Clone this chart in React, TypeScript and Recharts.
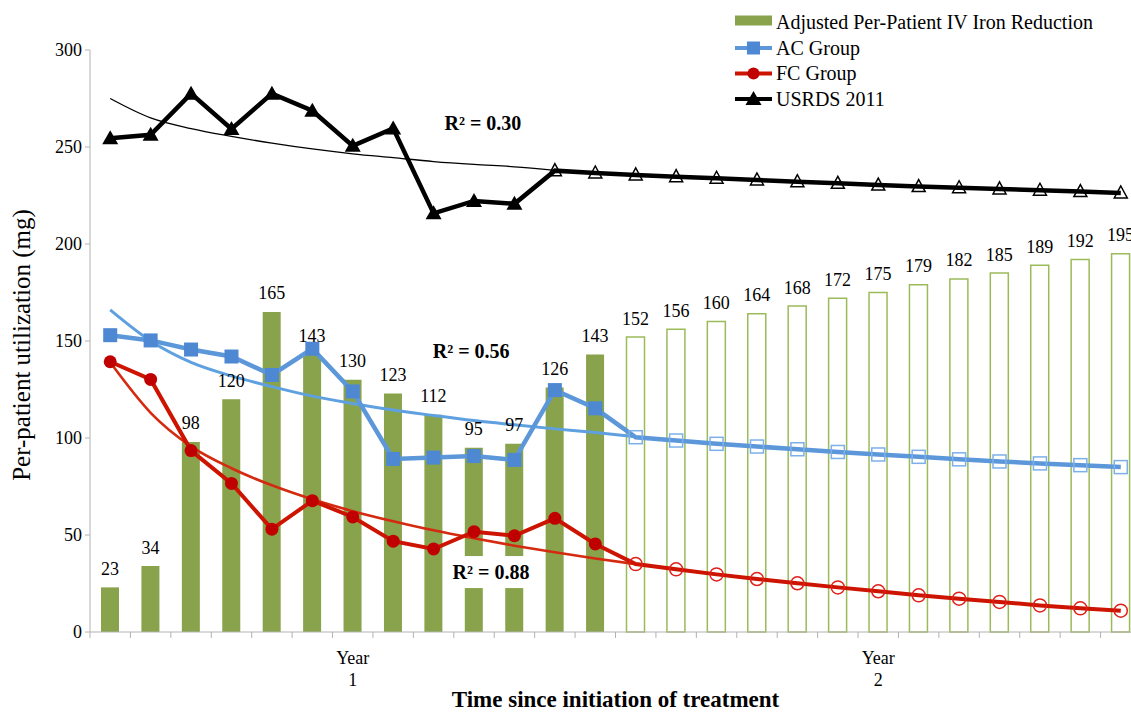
import React from 'react';
import {
  ComposedChart,
  Bar,
  Line,
  XAxis,
  YAxis,
  Cell,
  LabelList,
  Legend,
  ReferenceDot,
} from 'recharts';

// 4-week periods since start of treatment (13 per year)
const periods = [1, 2, 3, 4, 5, 6, 7, 8, 9, 10, 11, 12, 13, 14, 15, 16, 17, 18, 19, 20, 21, 22, 23, 24, 25, 26];
const ironReduction = [23, 34, 98, 120, 165, 143, 130, 123, 112, 95, 97, 126, 143, 152, 156, 160, 164, 168, 172, 175, 179, 182, 185, 189, 192, 195];
const acGroup = [153, 150.3, 145.6, 142, 132.5, 146, 124, 89.2, 89.9, 90.7, 88.7, 124.7, 115.3, 100.4, 98.7, 97, 95.6, 94.2, 92.8, 91.5, 90.3, 89, 87.9, 86.9, 86, 85];
const fcGroup = [139.3, 130.2, 93.5, 76.6, 53, 67.7, 59.3, 46.8, 42.8, 51.7, 49.6, 58.6, 45.4, 35, 32.3, 29.7, 27.3, 25.1, 23, 21, 18.9, 17.2, 15.5, 13.7, 12.2, 11];
const usrds2011 = [254.5, 256.3, 277.5, 259.3, 277.5, 268.7, 250.6, 259.6, 215.8, 222.2, 220.7, 237.8, 236.6, 235.6, 234.7, 233.9, 233, 232.1, 231.3, 230.4, 229.6, 229, 228.4, 227.7, 227, 226.3];

// log trendlines over the observed part
const acTrend = [166, 150, 139, 132, 126.5, 121.6, 117.8, 114.4, 111.6, 109, 106.8, 104.7, 102.8, 100.7];
const fcTrend = [139, 113, 95.7, 84.4, 75.6, 68.4, 62.3, 57.1, 52.4, 48.3, 44.5, 41.1, 37.9, 35];
const usrdsTrend = [275, 265, 259.5, 255.5, 252, 249, 246.5, 244.5, 242.5, 241, 239.8, 238];

const observedGroups = 13; // filled bars / markers for AC & FC
const observedUsrds = 11;

const yTicks = [0, 50, 100, 150, 200, 250, 300];
const yearTicks = [
  { pos: 7, label: 'Year', num: '1' },
  { pos: 20, label: 'Year', num: '2' },
];

const r2Labels = [
  { text: 'R² = 0.30', period: 10.22, value: 262.4, boxed: false },
  { text: 'R² = 0.56', period: 9.93, value: 144.8, boxed: false },
  { text: 'R² = 0.88', period: 10.42, value: 30.9, boxed: true },
];

const legendItems = [
  { name: 'Adjusted Per-Patient IV Iron Reduction', kind: 'bar' },
  { name: 'AC Group', kind: 'ac' },
  { name: 'FC Group', kind: 'fc' },
  { name: 'USRDS 2011', kind: 'usrds' },
];

const FONT = '"Liberation Serif", "Times New Roman", serif';
const GREEN = '#88A34B';
const GREEN_LINE = '#9BBB59';
const BLUE_LINE = '#5C97DA';
const BLUE_MARK = '#4E88D3';
const BLUE_HOLLOW = '#7DB0EA';
const BLUE_TREND = '#5EA0E0';
const RED_LINE = '#CC1400';
const RED_MARK = '#C00000';
const RED_TREND = '#D42A10';
const AXIS = '#B3B3B3';

const data = periods.map((p, i) => ({
  period: p,
  iron: ironReduction[i],
  ac: acGroup[i],
  fc: fcGroup[i],
  usrds: usrds2011[i],
  acTrend: acTrend[i] ?? null,
  fcTrend: fcTrend[i] ?? null,
  usrdsTrend: usrdsTrend[i] ?? null,
}));

const xTicks = [...periods.map((p) => p - 0.5), periods[periods.length - 1] + 0.5, ...yearTicks.map((t) => t.pos)];

const square = (cx: number, cy: number, s: number, filled: boolean, key: string) =>
  filled ? (
    <rect key={key} x={cx - s / 2} y={cy - s / 2} width={s} height={s} fill={BLUE_MARK} />
  ) : (
    <rect key={key} x={cx - s / 2} y={cy - s / 2} width={s} height={s} fill="none" stroke={BLUE_HOLLOW} strokeWidth={1.5} />
  );

const circle = (cx: number, cy: number, r: number, filled: boolean, key: string) =>
  filled ? (
    <circle key={key} cx={cx} cy={cy} r={r} fill={RED_MARK} />
  ) : (
    <circle key={key} cx={cx} cy={cy} r={r} fill="none" stroke="#E0201A" strokeWidth={1.5} />
  );

const triangle = (cx: number, cy: number, filled: boolean, key: string) =>
  filled ? (
    <polygon key={key} points={`${cx},${cy - 8} ${cx - 8},${cy + 6} ${cx + 8},${cy + 6}`} fill="#000" />
  ) : (
    <polygon key={key} points={`${cx},${cy - 7} ${cx - 6.5},${cy + 5} ${cx + 6.5},${cy + 5}`} fill="none" stroke="#000" strokeWidth={1.5} />
  );

const acDot = (props: any) => {
  const { cx, cy, index } = props;
  if (cx == null || cy == null) return <g key={`ac-${index}`} />;
  return square(cx, cy, index < observedGroups ? 14 : 13, index < observedGroups, `ac-${index}`);
};

const fcDot = (props: any) => {
  const { cx, cy, index } = props;
  if (cx == null || cy == null) return <g key={`fc-${index}`} />;
  return circle(cx, cy, 6.5, index < observedGroups, `fc-${index}`);
};

const usrdsDot = (props: any) => {
  const { cx, cy, index } = props;
  if (cx == null || cy == null) return <g key={`us-${index}`} />;
  return triangle(cx, cy, index < observedUsrds, `us-${index}`);
};

const renderXTick = (props: any) => {
  const { x, y, payload } = props;
  const year = yearTicks.find((t) => t.pos === payload.value);
  if (year) {
    return (
      <text x={x} y={y} textAnchor="middle" fontSize={18} fontFamily={FONT} fill="#000">
        <tspan x={x} dy={26}>{year.label}</tspan>
        <tspan x={x} dy={22}>{year.num}</tspan>
      </text>
    );
  }
  return <line x1={x} x2={x} y1={y - 6} y2={y} stroke={AXIS} strokeWidth={1} />;
};

const renderYLabel = () => {
  const cy = 345;
  const cx = 21;
  return (
    <text
      x={cx}
      y={cy}
      transform={`rotate(-90, ${cx}, ${cy})`}
      textAnchor="middle"
      dominantBaseline="central"
      fontSize={25}
      fontFamily={FONT}
      fill="#000"
    >
      Per-patient utilization (mg)
    </text>
  );
};

const renderLegend = () => {
  const rows = [22.5, 48, 73.5, 99];
  const ox = 730;
  const oy = 6;
  return (
    <svg width={400} height={112} style={{ display: 'block' }}>
      {legendItems.map((item, i) => {
        const cy = rows[i] - oy;
        const x0 = 735 - ox;
        const x1 = 772 - ox;
        const mx = (x0 + x1) / 2;
        let sym: React.ReactNode = null;
        if (item.kind === 'bar') {
          sym = <rect x={x0} y={cy - 7} width={x1 - x0} height={10} fill={GREEN} />;
        } else if (item.kind === 'ac') {
          sym = (
            <g>
              <line x1={x0} x2={x1} y1={cy} y2={cy} stroke={BLUE_LINE} strokeWidth={4} />
              {square(mx, cy, 13, true, 'lg-ac')}
            </g>
          );
        } else if (item.kind === 'fc') {
          sym = (
            <g>
              <line x1={x0} x2={x1} y1={cy} y2={cy} stroke={RED_LINE} strokeWidth={4} />
              {circle(mx, cy, 6, true, 'lg-fc')}
            </g>
          );
        } else {
          sym = (
            <g>
              <line x1={x0} x2={x1} y1={cy} y2={cy} stroke="#000" strokeWidth={4} />
              {triangle(mx, cy, true, 'lg-us')}
            </g>
          );
        }
        return (
          <g key={item.name}>
            {sym}
            <text x={776 - ox} y={cy + 6.8} fontSize={20} fontFamily={FONT} fill="#000">
              {item.name}
            </text>
          </g>
        );
      })}
    </svg>
  );
};

const R2Shape = (props: any) => {
  const { cx, cy, text, boxed } = props;
  if (cx == null || cy == null) return <g />;
  return (
    <g>
      {boxed && <rect x={cx - 46} y={cy - 16} width={92} height={32} fill="#fff" />}
      <text x={cx} y={cy} textAnchor="middle" dominantBaseline="central" fontSize={20} fontWeight="bold" fontFamily={FONT} fill="#000">
        {text}
      </text>
    </g>
  );
};

export default function App() {
  return (
    <div
      style={{
        position: 'absolute',
        left: 0,
        top: 0,
        width: 1131,
        height: 712,
        overflow: 'hidden',
        background: '#fff',
        fontFamily: FONT,
      }}
    >
      <ComposedChart width={1150} height={712} data={data} margin={{ top: 50, right: 9, bottom: 0, left: 0 }}>
        <XAxis
          dataKey="period"
          type="number"
          domain={[0.5, 26.5]}
          ticks={xTicks}
          interval={0}
          height={80}
          tickLine={false}
          tickSize={6}
          tickMargin={0}
          axisLine={{ stroke: AXIS }}
          tick={renderXTick}
          label={{
            value: 'Time since initiation of treatment',
            position: 'insideBottom',
            offset: 5,
            fontSize: 23,
            fontWeight: 'bold',
            fontFamily: FONT,
            fill: '#000',
          }}
        />
        <YAxis
          domain={[0, 300]}
          ticks={yTicks}
          width={90}
          tickSize={5}
          tickMargin={3}
          axisLine={{ stroke: AXIS }}
          tickLine={{ stroke: AXIS }}
          tick={{ fontSize: 18, fill: '#000', fontFamily: FONT, style: { fontFamily: FONT } }}
          label={renderYLabel}
        />
        <Legend
          content={renderLegend}
          layout="vertical"
          align="center"
          verticalAlign="middle"
          wrapperStyle={{ position: 'absolute', left: 730, top: 6, width: 400, height: 112 }}
        />
        <Bar dataKey="iron" barSize={18} isAnimationActive={false}>
          {data.map((d, i) => (
            <Cell
              key={`bar-${d.period}`}
              fill={i < observedGroups ? GREEN : 'none'}
              stroke={i < observedGroups ? 'none' : GREEN_LINE}
              strokeWidth={1.5}
            />
          ))}
          <LabelList
            dataKey="iron"
            position="top"
            offset={12.5}
            fontSize={18}
            fill="#000"
            style={{ fontFamily: FONT }}
          />
        </Bar>
        <Line type="monotone" dataKey="usrdsTrend" stroke="#000" strokeWidth={1.3} dot={false} activeDot={false} isAnimationActive={false} />
        <Line type="monotone" dataKey="acTrend" stroke={BLUE_TREND} strokeWidth={3} dot={false} activeDot={false} isAnimationActive={false} />
        <Line type="monotone" dataKey="fcTrend" stroke={RED_TREND} strokeWidth={2.6} dot={false} activeDot={false} isAnimationActive={false} />
        <Line dataKey="usrds" stroke="#000" strokeWidth={4.5} dot={usrdsDot} activeDot={false} isAnimationActive={false} />
        <Line dataKey="ac" stroke={BLUE_LINE} strokeWidth={4.5} dot={acDot} activeDot={false} isAnimationActive={false} />
        <Line dataKey="fc" stroke={RED_LINE} strokeWidth={4} dot={fcDot} activeDot={false} isAnimationActive={false} />
        {r2Labels.map((r) => (
          <ReferenceDot
            key={r.text}
            x={r.period}
            y={r.value}
            r={0}
            shape={(p: any) => <R2Shape {...p} text={r.text} boxed={r.boxed} />}
          />
        ))}
      </ComposedChart>
    </div>
  );
}
